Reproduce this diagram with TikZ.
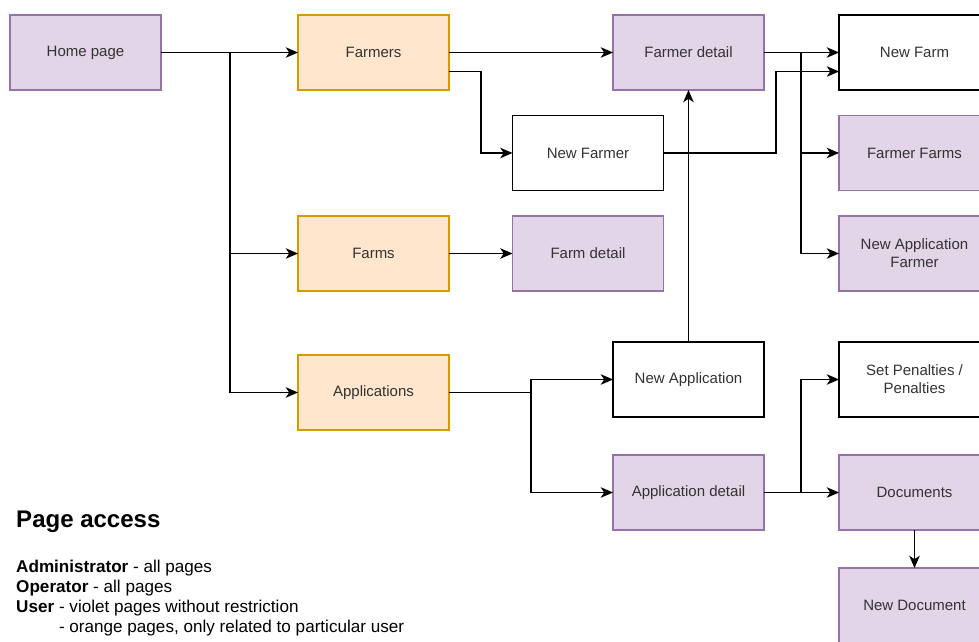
\documentclass[tikz,border=0pt]{standalone}
\usepackage{fontspec}
\setmainfont{Liberation Sans}
\usetikzlibrary{arrows.meta,calc}

\definecolor{violetfill}{HTML}{E1D5E7}
\definecolor{violetline}{HTML}{9673A6}
\definecolor{orangefill}{HTML}{FFE6CC}
\definecolor{orangeline}{HTML}{D79B00}
\definecolor{labelgray}{HTML}{333333}

\begin{document}
\begin{tikzpicture}[x=0.03cm, y=-0.03cm,
	page/.style={draw, line width=1pt, minimum width=4.53cm, minimum height=2.25cm, inner sep=2pt, outer sep=0pt, align=center, text=labelgray, font=\fontsize{12.8}{15.5}\selectfont},
	violetpage/.style={page, fill=violetfill, draw=violetline},
	orangepage/.style={page, fill=orangefill, draw=orangeline},
	whitepage/.style={page, fill=white, draw=black},
	link/.style={draw, line width=1pt, -{Stealth[length=10.5pt,width=9pt,inset=3pt]}},
	legend/.style={anchor=base west, inner sep=0pt, font=\fontsize{14.6}{17}\selectfont}]
					% Fix the picture size and cut the boxes on the right edge
					\useasboundingbox (0,0) rectangle (979,641);
					\clip (0,0) rectangle (979,641);
					
					% Draw first column of pages
					\node[violetpage] (home) at (85.5,52.5) {Home page};
					\node[orangepage] (farmers) at (373.5,52.5) {Farmers};
					\node[orangepage] (farms) at (373.5,253.5) {Farms};
					\node[orangepage] (apps) at (373.5,392.5) {Applications};
					
					% Draw middle pages
					\node[violetpage] (farmerdetail) at (688.5,52.5) {Farmer detail};
					\node[whitepage] (newfarmer) at (588,153) {New Farmer};
					\node[violetpage] (farmdetail) at (588,253.5) {Farm detail};
					\node[whitepage] (newapp) at (688.5,379.5) {New Application};
					\node[violetpage] (appdetail) at (688.5,492.5) {Application detail};
					
					% Draw pages on the right edge
					\node[whitepage] (newfarm) at (914.5,52.5) {New Farm};
					\node[violetpage] (farmerfarms) at (914.5,153) {Farmer Farms};
					\node[violetpage] (newappfarmer) at (914.5,253.5) {New Application\\Farmer};
					\node[whitepage] (penalties) at (914.5,379.5) {Set Penalties /\\Penalties};
					\node[violetpage] (documents) at (914.5,492.5) {Documents};
					\node[violetpage] (newdoc) at (914.5,605.5) {New Document};
					
					% Points where the connectors split
					\coordinate (homesplit) at (230,52.5);
					\coordinate (farmersbend) at (481,71.5);
					\coordinate (detailsplit) at (801,52.5);
					\coordinate (newfarmerbend) at (776,153);
					\coordinate (appsplit) at (531,392.5);
					\coordinate (appdetailsplit) at (801,492.5);
					
					% Draw connectors from home page
					\draw[link] (home) -- (farmers);
					\draw[link] (homesplit) |- (farms);
					\draw[link] (homesplit) |- (apps);
					
					% Draw connectors from farmers
					\draw[link] (farmers) -- (farmerdetail);
					\draw[link] ($(farmers.east)+(0,19)$) -- (farmersbend) |- (newfarmer);
					\draw[link] (newfarmer.east) -| (newfarmerbend) |- ($(newfarm.west)+(0,19)$);
					
					% Draw connectors from farmer detail
					\draw[link] (farmerdetail) -- (newfarm);
					\draw[link] (detailsplit) |- (farmerfarms);
					\draw[link] (detailsplit) |- (newappfarmer);
					
					% Draw connectors from farms and applications
					\draw[link] (farms) -- (farmdetail);
					\draw[line width=1pt] (apps.east) -- (appsplit);
					\draw[link] (appsplit) |- (newapp);
					\draw[link] (appsplit) |- (appdetail);
					\draw[link] (newapp) -- (farmerdetail);
					
					% Draw connectors from application detail
					\draw[link] (appdetail) -- (documents);
					\draw[link] (appdetailsplit) |- (penalties);
					\draw[link] (documents) -- (newdoc);
					
					% Draw page access legend
					\node[anchor=base west, inner sep=0pt, font=\bfseries\fontsize{20.5}{24}\selectfont] (title) at (16,527) {Page access};
					\node[legend] (admin) at (16,572) {\textbf{Administrator} - all pages};
					\node[legend] (operator) at (16,592) {\textbf{Operator} - all pages};
					\node[legend] (user) at (16,612) {\textbf{User} - violet pages without restriction};
					\node[legend] (userorange) at (16,632) {\hphantom{\textbf{User} }- orange pages, only related to particular user};
\end{tikzpicture}
\end{document}
